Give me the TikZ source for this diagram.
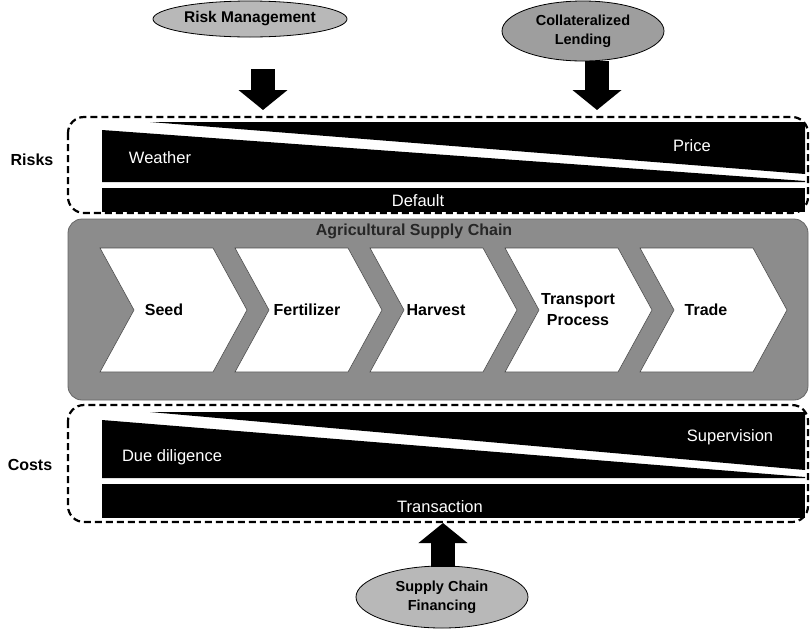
\documentclass[tikz,border=0pt]{standalone}
\usepackage{fontspec}
\setmainfont{Liberation Sans}
\usetikzlibrary{shapes.geometric,arrows.meta}
\begin{document}
\begin{tikzpicture}[x=1pt,y=-1pt,
  lbl/.style={font=\fontsize{16}{18}\selectfont\bfseries},
  wtxt/.style={text=white,font=\fontsize{16.5}{18}\selectfont},
  oval/.style={ellipse,draw=black,line width=0.8pt,fill=black!28,inner sep=0pt,align=center,font=\fontsize{14.5}{19}\selectfont\bfseries},
  dbox/.style={draw=black,line width=2.2pt,dash pattern=on 7pt off 4pt,rounded corners=16pt},
  bigarrow/.style={line width=24pt,-{Triangle[width=48pt,length=20pt]}},
  chev/.style={fill=white,draw=black!70,line width=0.6pt},
  ctext/.style={font=\fontsize{16}{21}\selectfont\bfseries,align=center},
]
\useasboundingbox (0,0) rectangle (810,630);

% ---------- Risks ----------
\fill[black] (150,122) -- (805,122) -- (805,174) -- cycle;
\fill[black] (102,130) -- (805,181) -- (805,182) -- (102,182) -- cycle;
\fill[black] (102,188) rectangle (805,212);
\draw[dbox] (68,117) rectangle (808,213);
\node[lbl] (risks) at (32,160) {Risks};
\node[wtxt] (weather) at (160,158) {Weather};
\node[wtxt] (price) at (692,146) {Price};
\node[wtxt] (default) at (418,201) {Default};

% ---------- Supply chain ----------
\draw[fill=black!45,draw=black!60,line width=0.8pt,rounded corners=14pt] (68,219) rectangle (808,400);
\node[font=\fontsize{16}{18}\selectfont\bfseries,text=black!85] (asc) at (414,231) {Agricultural Supply Chain};
\foreach \i/\t/\dx in {0/Seed/64,1/Fertilizer/72,2/Harvest/66,3/{Transport\\Process}/73,4/Trade/66}{
  \pgfmathsetmacro{\xo}{100+135*\i}
  \draw[chev] (\xo,248) -- (\xo+113,248) -- (\xo+147,310) -- (\xo+113,372) -- (\xo,372) -- (\xo+34,310) -- cycle;
  \node[ctext] (c\i) at (\xo+\dx,310) {\t};
}

% ---------- Costs ----------
\fill[black] (150,412) -- (805,412) -- (805,470) -- cycle;
\fill[black] (102,420) -- (805,477) -- (805,478) -- (102,478) -- cycle;
\fill[black] (102,484) rectangle (805,518);
\draw[dbox] (68,405) rectangle (808,522);
\node[lbl] (costs) at (30,465) {Costs};
\node[wtxt] (due) at (172,457) {Due diligence};
\node[wtxt] (sup) at (730,437) {Supervision};
\node[wtxt] (trans) at (440,507) {Transaction};

% ---------- Ovals ----------
\node[oval,font=\fontsize{15.5}{19}\selectfont\bfseries,minimum width=194pt,minimum height=36pt] (rm) at (250,19) {Risk Management};
\node[oval,fill=black!38,minimum width=162pt,minimum height=60pt] (cl) at (583,31) {Collateralized\\Lending};
\node[oval,minimum width=172pt,minimum height=62pt] (scf) at (442,597) {Supply Chain\\Financing};

% ---------- Arrows ----------
\coordinate (a1s) at (263,69);
\coordinate (a1e) at (263,110);
\coordinate (a2s) at (597,61);
\coordinate (a2e) at (597,110);
\coordinate (a3s) at (443,567);
\coordinate (a3e) at (443,523);
\draw[bigarrow] (a1s) -- (a1e);
\draw[bigarrow] (a2s) -- (a2e);
\draw[bigarrow] (a3s) -- (a3e);
\end{tikzpicture}
\end{document}
